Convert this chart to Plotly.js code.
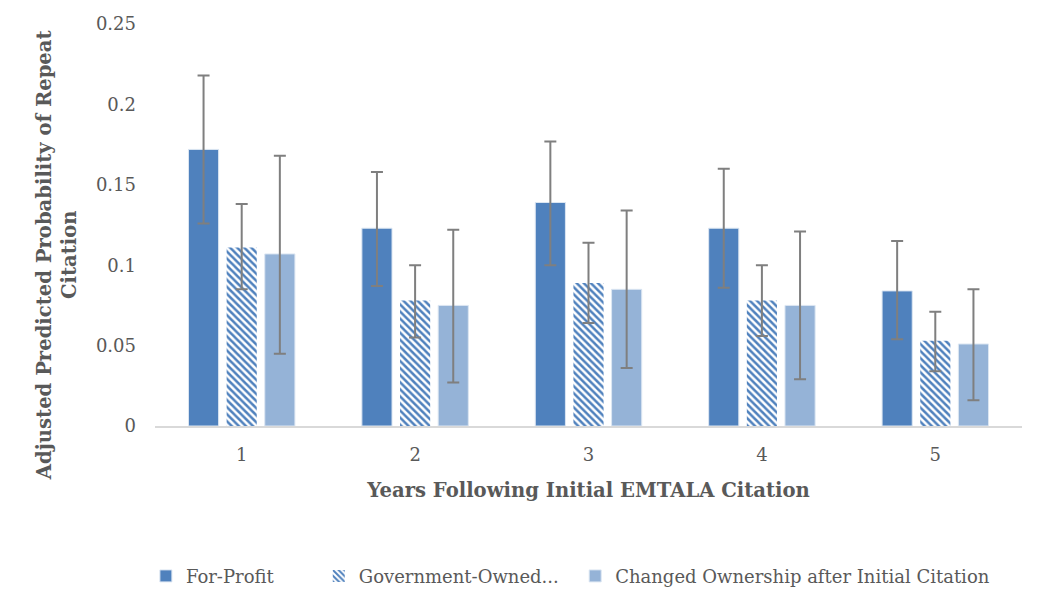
<!DOCTYPE html>
<html>
<head>
<meta charset="utf-8">
<script src="https://cdn.plot.ly/plotly-3.0.1.min.js"></script>
<style>
  body { margin: 0; background: #fff; }
  #chart { width: 1050px; height: 612px; }
</style>
</head>
<body>
<div id="chart"></div>
<script>
// years after the first EMTALA citation
const years = ["1", "2", "3", "4", "5"];

// adjusted predicted probabilities
const forProfit = [0.172, 0.123, 0.139, 0.123, 0.084];
const forProfitHi = [0.218, 0.158, 0.177, 0.160, 0.115];
const forProfitLo = [0.126, 0.087, 0.100, 0.086, 0.054];

const government = [0.111, 0.078, 0.089, 0.078, 0.053];
const governmentHi = [0.138, 0.100, 0.114, 0.100, 0.071];
const governmentLo = [0.085, 0.055, 0.064, 0.056, 0.034];

const changed = [0.107, 0.075, 0.085, 0.075, 0.051];
const changedHi = [0.168, 0.122, 0.134, 0.121, 0.085];
const changedLo = [0.045, 0.027, 0.036, 0.029, 0.016];

// nbsp padding spreads the legend entries like the original
const seriesNames = [
    "For-Profit\u00a0\u00a0\u00a0\u00a0\u00a0\u00a0\u00a0",
    "Government-Owned...\u00a0\u00a0",
    "Changed Ownership after Initial Citation"
];

const grey = "#595959";
const errColor = "#7f7f7f";
const serif = "DejaVu Serif";

// error bars are asymmetric, so turn hi/lo into distances from the bar top
function errBar(vals, hi, lo) {
    return {
        type: "data",
        symmetric: false,
        array: hi.map((h, i) => h - vals[i]),
        arrayminus: lo.map((l, i) => vals[i] - l),
        color: errColor,
        thickness: 2,
        width: 6
    };
}

const traces = [
    {
        x: years, y: forProfit, name: seriesNames[0], type: "bar",
        marker: { color: "#4f81bd", line: { color: "#dce6f2", width: 1 } },
        error_y: errBar(forProfit, forProfitHi, forProfitLo)
    },
    {
        x: years, y: government, name: seriesNames[1], type: "bar",
        marker: {
            color: "#ffffff",
            pattern: { shape: "\\", fgcolor: "#4f81bd", bgcolor: "#ffffff", size: 5, solidity: 0.5 },
            line: { color: "#ffffff", width: 0 }
        },
        error_y: errBar(government, governmentHi, governmentLo)
    },
    {
        x: years, y: changed, name: seriesNames[2], type: "bar",
        marker: { color: "#95b3d7", line: { color: "#dce6f2", width: 1 } },
        error_y: errBar(changed, changedHi, changedLo)
    }
];

const layout = {
    width: 1050,
    height: 612,
    margin: { l: 155, r: 28, t: 24, b: 186 },
    paper_bgcolor: "#ffffff",
    plot_bgcolor: "#ffffff",
    font: { family: serif, size: 18, color: grey },
    barmode: "group",
    bargap: 0.34,
    bargroupgap: 0.21,
    showlegend: true,
    legend: {
        orientation: "h",
        x: -0.0105, xanchor: "left",
        y: -0.3276, yanchor: "top",
        font: { family: serif, size: 18, color: grey },
        traceorder: "normal"
    },
    xaxis: {
        type: "category",
        showline: true,
        linecolor: "#d9d9d9",
        linewidth: 2,
        showgrid: false,
        ticks: "",
        ticklabelstandoff: 11,
        tickfont: { family: serif, size: 18, color: grey },
        title: {
            text: "Years Following Initial EMTALA Citation",
            font: { family: serif, size: 19.6, color: grey, weight: "bold" },
            standoff: 20
        }
    },
    yaxis: {
        range: [0, 0.25],
        dtick: 0.05,
        showline: false,
        showgrid: false,
        zeroline: false,
        ticks: "",
        ticklabelstandoff: 18,
        tickfont: { family: serif, size: 18, color: grey }
    },
    // y title as an annotation so it can sit lower than the plot centre, like the original
    annotations: [{
        text: "<b>Adjusted Predicted Probability of Repeat<br>Citation</b>",
        xref: "paper", yref: "paper",
        x: -0.113, y: 0.425,
        xanchor: "center", yanchor: "middle",
        textangle: -90,
        showarrow: false,
        font: { family: serif, size: 19.6, color: grey }
    }]
};

Plotly.newPlot("chart", traces, layout, { displayModeBar: false });
</script>
</body>
</html>
